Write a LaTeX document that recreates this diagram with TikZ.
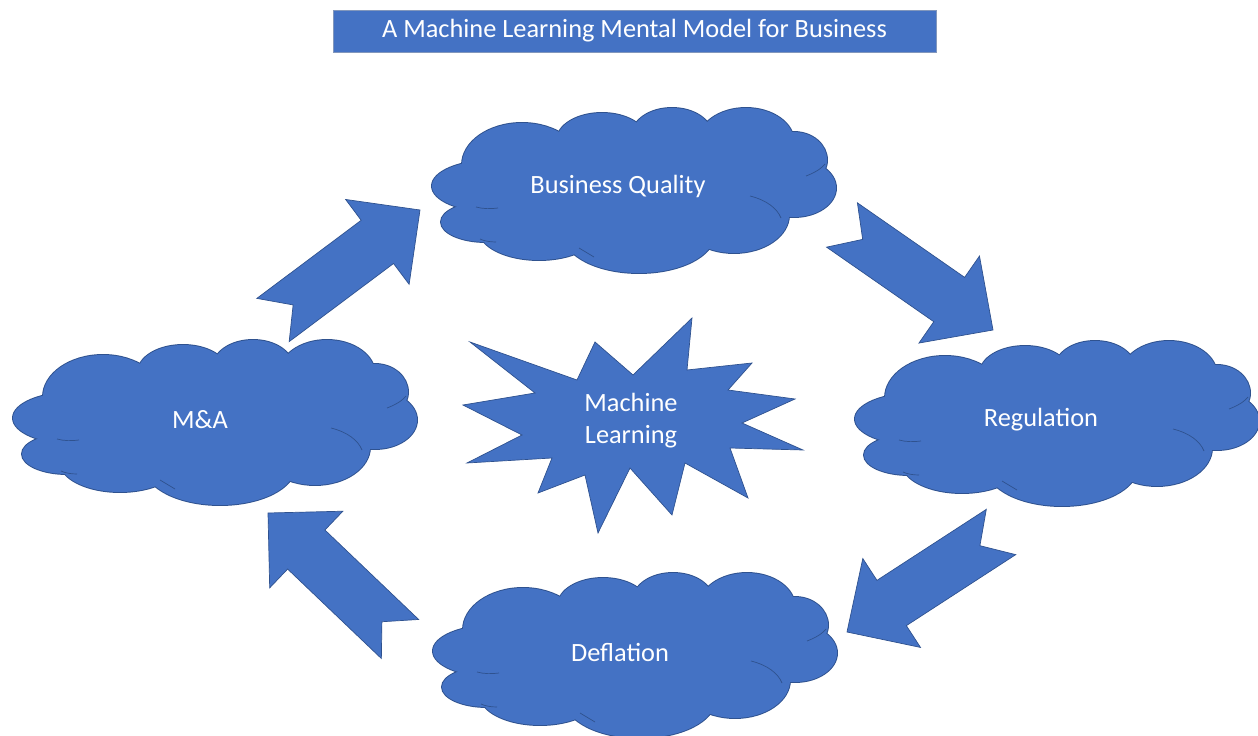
\documentclass[tikz,border=0pt]{standalone}
\usepackage{fontspec}
\setmainfont{Carlito}
\usetikzlibrary{calc,positioning}

\definecolor{officeblue}{RGB}{68,114,196}
\definecolor{officeedge}{RGB}{47,82,143}

% lobes of one cloud: centre x / centre y / x radius / y radius
\newcommand{\cloudlobes}{0/0/150/50, -140/-4/62/26, -148/32/45/20, -95/40/60/30,
  5/45/75/38, 100/25/55/38, 160/-2/42/29, 160/-30/33/28, 112/-48/48/34,
  38/-55/40/27, -32/-50/45/27, -112/-25/60/42}

% cloud around a coordinate: outline pass first, then the fill covers the seams
\newcommand{\cloudat}[1]{%
  \begin{scope}[shift={(#1)}]
    \foreach \cx/\cy/\rx/\ry in \cloudlobes
      \draw[officeedge,line width=1.1pt] (\cx,\cy) ellipse [x radius=\rx, y radius=\ry];
    \foreach \cx/\cy/\rx/\ry in \cloudlobes
      \fill[officeblue] (\cx,\cy) ellipse [x radius=\rx, y radius=\ry];
    % a few inner seams
    \draw[officeedge,line width=0.4pt]
      (116,6) .. controls (132,10) and (143,18) .. (147,28)
      (172,-14) .. controls (180,-17) and (187,-21) .. (191,-26)
      (-158,17) .. controls (-151,19) and (-143,19) .. (-136,18)
      (-138,52) .. controls (-144,52) and (-150,51) .. (-154,49)
      (-55,58) .. controls (-50,61) and (-45,64) .. (-40,67);
  \end{scope}}

% notched block arrow from #1 (tail) to #2 (tip)
\newcommand{\blockarrow}[2]{%
  \filldraw[officeblue,draw=officeedge,line width=0.4pt,line join=miter]
    ($(#1)!0.54cm!90:(#2)$) -- ($(#1)!0.137!(#2)$) -- ($(#1)!0.54cm!-90:(#2)$)
    -- ($(#1)!0.71!(#2)!0.54cm!-90:(#2)$) -- ($(#1)!0.71!(#2)!1.06cm!-90:(#2)$)
    -- (#2)
    -- ($(#1)!0.71!(#2)!1.06cm!90:(#2)$) -- ($(#1)!0.71!(#2)!0.54cm!90:(#2)$)
    -- cycle;}

\begin{document}
\begin{tikzpicture}[x=0.02cm,y=-0.02cm,
    label/.style={text=white,font=\fontsize{15}{18.2}\selectfont,inner sep=0pt},
    titlebox/.style={label,fill=officeblue,draw=officeedge!60,line width=0.4pt,
      minimum width=12.06cm,minimum height=0.84cm}]
  \useasboundingbox (0,0) rectangle (1258,736);

  \node[titlebox] (title) at (634.5,31) {A Machine Learning Mental Model for Business};

  % the four clouds
  \coordinate (bqc) at (634,190);
  \coordinate (mac) at (215,422);
  \coordinate (regc) at (1057,423);
  \coordinate (defc) at (635,655);
  \foreach \c in {bqc,mac,regc,defc}
    \cloudat{\c};
  \node[label] (bq) at ($(bqc)+(-16,-4)$) {Business Quality};
  \node[label] (ma) at ($(mac)+(-15,-2)$) {M\&A};
  \node[label] (reg) at ($(regc)+(-16,-3)$) {Regulation};
  \node[label] (def) at ($(defc)+(-15,-3)$) {Deflation};

  % burst in the middle
  \filldraw[officeblue,draw=officeedge,line width=0.4pt,line join=miter]
    (692,318) -- (687,370) -- (752,363) -- (728,390) -- (795,399) -- (742,423)
    -- (803,450) -- (730,448) -- (748,498) -- (685,463) -- (672,515) -- (630,468)
    -- (598,533) -- (585,475) -- (538,493) -- (552,458) -- (467,463) -- (522,435)
    -- (463,405) -- (535,393) -- (470,342) -- (577,380) -- (595,342) -- (633,375)
    -- cycle;
  \node[label,align=center] (ml) at (631,421) {Machine\\Learning};

  % arrows round the cycle
  \coordinate (a1s) at (273,320);  \coordinate (a1e) at (420,210);
  \coordinate (a2s) at (842,225);  \coordinate (a2e) at (993,330);
  \coordinate (a3s) at (1001,532); \coordinate (a3e) at (847,632);
  \coordinate (a4s) at (400,639);  \coordinate (a4e) at (268,513);
  \blockarrow{a1s}{a1e}
  \blockarrow{a2s}{a2e}
  \blockarrow{a3s}{a3e}
  \blockarrow{a4s}{a4e}
\end{tikzpicture}
\end{document}
